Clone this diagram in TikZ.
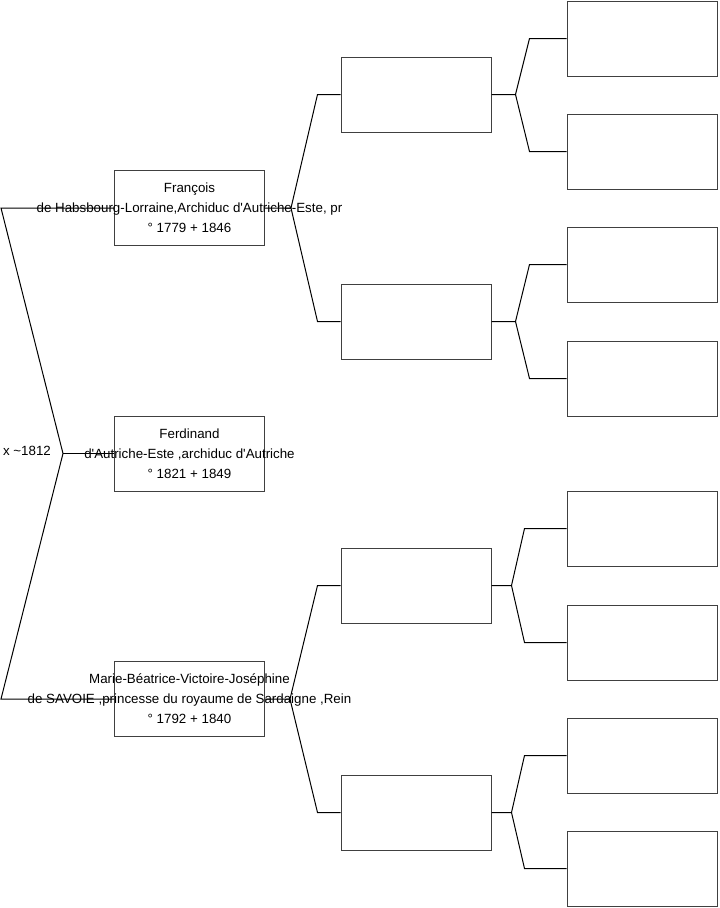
\documentclass[tikz,border=0pt]{standalone}
\usepackage{fontspec}
\setmainfont{Liberation Sans}
\usetikzlibrary{positioning,calc}

\begin{document}
\begin{tikzpicture}[
  x=0.75pt, y=-0.75pt,
  line width=0.75pt,
  person/.style={draw=black!75, rectangle, inner sep=0pt,
                 minimum width=112.5pt, minimum height=56.25pt},
  nametext/.style={font=\fontsize{10}{15}\selectfont, align=center},
  link/.style={draw, black, line join=miter}
]
\useasboundingbox (0,0) rectangle (719,908);

% Generation 1
\node[person] (p1) at (189.5,208) {};
\node[person] (p2) at (189.5,453.5) {};
\node[person] (p3) at (189.5,699) {};

% Generation 2
\node[person] (g1) at (416,94.5) {};
\node[person] (g2) at (416,321.5) {};
\node[person] (g3) at (416,585.5) {};
\node[person] (g4) at (416,812.5) {};

% Generation 3
\foreach \i/\y in {1/38.5,2/151.5,3/264.5,4/378.5,5/528.5,6/642.5,7/755.5,8/868.5}
  \node[person] (a\i) at (642,\y) {};

% Marriage fork
\coordinate (e1) at (1,208);
\coordinate (e3) at (1,699);
\coordinate (fork) at (63,453.5);
\draw[link] (p1.west) -- (e1) -- (fork) -- (e3) -- (p3.west);
\draw[link] (fork) -- (p2.west);
\node[nametext] (marr) at (27,451) {x \textasciitilde1812};

% Parents of generation 1
\coordinate (k1) at (291,208);
\coordinate (k3) at (290,699);
\draw[link] (p1.east) -- (k1) -- ($(g1.west)+(-23,0)$) -- (g1.west);
\draw[link] (k1) -- ($(g2.west)+(-23,0)$) -- (g2.west);
\draw[link] (p3.east) -- (k3) -- ($(g3.west)+(-23,0)$) -- (g3.west);
\draw[link] (k3) -- ($(g4.west)+(-23,0)$) -- (g4.west);

% Parents of generation 2
\foreach \g/\dx/\ex/\u/\d in {1/24/37/1/2, 2/24/37/3/4, 3/20/42/5/6, 4/20/42/7/8} {
  \draw[link] (g\g.east) -- ++(\dx,0) coordinate (h\g)
    -- ($(a\u.west)+(-\ex,0)$) -- (a\u.west);
  \draw[link] (h\g) -- ($(a\d.west)+(-\ex,0)$) -- (a\d.west);
}

% Names
\node[nametext] (n1) at (p1) {François\\de Habsbourg-Lorraine,Archiduc d\textquotesingle Autriche-Este, pr\\° 1779 + 1846};
\node[nametext] (n2) at (p2) {Ferdinand\\d\textquotesingle Autriche-Este ,archiduc d\textquotesingle Autriche\\° 1821 + 1849};
\node[nametext] (n3) at (p3) {Marie-Béatrice-Victoire-Joséphine\\de SAVOIE ,princesse du royaume de Sardaigne ,Rein\\° 1792 + 1840};

\end{tikzpicture}
\end{document}
